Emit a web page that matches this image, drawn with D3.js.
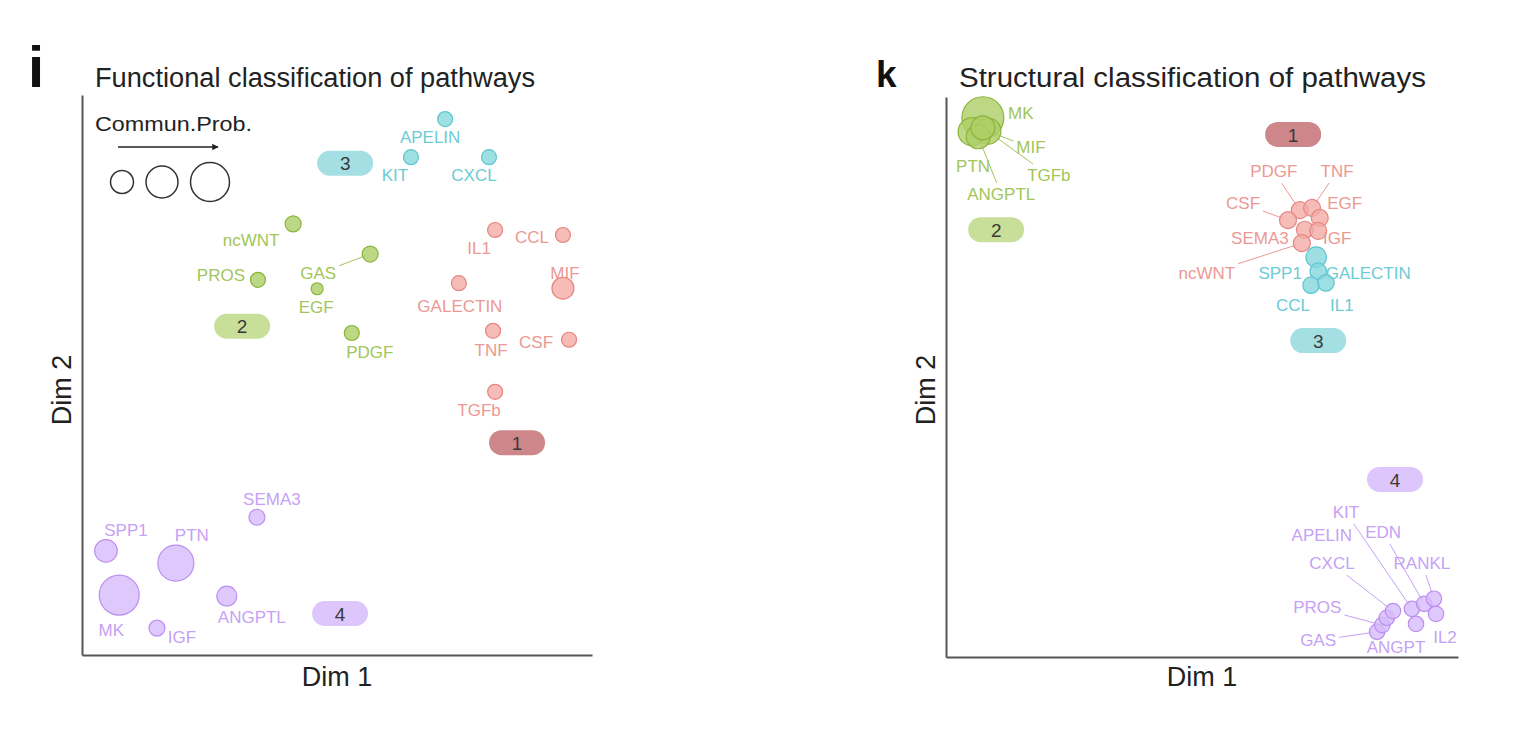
<!DOCTYPE html>
<html>
<head>
<meta charset="utf-8">
<script src="https://cdn.jsdelivr.net/npm/d3@7"></script>
<style>
body { margin: 0; background: #fff; }
svg text { font-family: "Liberation Sans", Arial, Helvetica, sans-serif; }
</style>
</head>
<body>
<svg id="chart" width="1522" height="734"></svg>
<script>

// ---- panel i : functional classification ----
var funcNames   = ["IL1","CCL","MIF","GALECTIN","TNF","CSF","TGFb",
                   "ncWNT","GAS","PROS","EGF","PDGF",
                   "APELIN","KIT","CXCL",
                   "SEMA3","SPP1","PTN","MK","IGF","ANGPTL"];
var funcCluster = [1,1,1,1,1,1,1, 2,2,2,2,2, 3,3,3, 4,4,4,4,4,4];
var funcDim1    = [81.0,94.3,94.3,73.9,80.6,95.5,81.0, 41.4,56.5,34.5,46.1,52.9, 71.2,64.5,79.8, 34.3,4.7,18.4,7.3,14.7,28.4];
var funcDim2    = [75.9,75.0,65.5,66.4,57.9,56.3,47.0, 77.0,71.6,67.0,65.4,57.5, 95.7,88.9,88.9, 24.6,18.6,16.4,10.7,4.8,10.5];
var funcProb    = [0.14,0.14,0.30,0.14,0.14,0.14,0.14, 0.16,0.16,0.14,0.09,0.14, 0.14,0.14,0.14, 0.16,0.32,0.81,1.0,0.16,0.25];

// ---- panel k : structural classification ----
var structNames   = ["PDGF","TNF","CSF","EGF","SEMA3","IGF","ncWNT",
                     "MK","PTN","ANGPTL","MIF","TGFb",
                     "SPP1","GALECTIN","CCL","IL1",
                     "GAS","PROS","APELIN","CXCL","KIT","EDN","RANKL","IL2","ANGPT"];
var structCluster = [1,1,1,1,1,1,1, 2,2,2,2,2, 3,3,3,3, 4,4,4,4,4,4,4,4,4];
var structDim1    = [69.1,71.5,66.8,73.0,70.1,72.7,69.5, 7.2,5.1,6.3,8.2,7.2, 72.3,72.7,71.3,74.2, 84.2,85.2,86.1,87.3,91.0,93.4,95.3,95.7,91.8];
var structDim2    = [79.8,80.2,78.0,78.4,76.3,76.1,73.9, 96.3,93.8,92.9,93.9,94.5, 71.4,68.9,66.4,66.8, 4.5,5.7,7.0,8.2,8.6,9.5,10.4,7.7,5.9];
var structProb    = [0.18,0.18,0.18,0.18,0.18,0.18,0.18, 1.1,0.49,0.36,0.42,0.36, 0.26,0.17,0.17,0.17, 0.15,0.15,0.15,0.15,0.15,0.15,0.15,0.15,0.15];

// cluster badges
var clusterIds      = [1,2,3,4];
var funcBadgeDim1   = [85.3,31.4,51.6,50.6];
var funcBadgeDim2   = [38.0,58.8,87.9,7.5];
var structBadgeDim1 = [67.8,9.8,72.7,87.7];
var structBadgeDim2 = [93.4,76.4,56.6,31.8];

var legendProb = [0.33,0.64,0.95];

// label placement (pixels from the point), third item = leader line
var funcLabelPos = {
  IL1:[-16,18], CCL:[-31,2], MIF:[2,-15], GALECTIN:[1,23], TNF:[-2,19], CSF:[-33,2], TGFb:[-16,18],
  ncWNT:[-42,16], GAS:[-52,19,1], PROS:[-37,-5], EGF:[-1,18], PDGF:[18,19],
  APELIN:[-15,18], KIT:[-16,18], CXCL:[-15,18],
  SEMA3:[15,-18], SPP1:[20,-21], PTN:[16,-28], MK:[-8,35], IGF:[25,9], ANGPTL:[25,21]
};
var structLabelPos = {
  PDGF:[-26,-39,1], TNF:[25,-37,1], CSF:[-45,-17,1], EGF:[25,-15], SEMA3:[-45,8], IGF:[19,7], ncWNT:[-95,30,1],
  MK:[38,-5], PTN:[1,34], ANGPTL:[23,57,1], MIF:[43,16,1], TGFb:[66,47,1],
  SPP1:[-36,16], GALECTIN:[50,2], CCL:[-18,20], IL1:[16,22],
  GAS:[-59,8,1], PROS:[-65,-18,1], APELIN:[-65,-83], CXCL:[-61,-48,1], KIT:[-66,-97,1],
  EDN:[-41,-72,1], RANKL:[-12,-36,1], IL2:[9,23], ANGPT:[-20,23]
};

var strokeCol = {1:"#e8857f", 2:"#8cb43a", 3:"#5cc6cf", 4:"#bb8ff0"};
var fillCol   = {1:"#f3aba6", 2:"#acce66", 3:"#86d7dd", 4:"#d7bafa"};
var textCol   = {1:"#ec9893", 2:"#a2c55a", 3:"#6ccbd3", 4:"#c6a1f5"};
var badgeCol  = {1:"#cd8689", 2:"#c7df99", 3:"#a3dfe3", 4:"#dcc6fb"};

var svg = d3.select("#chart");
var rScale = d3.scaleSqrt().domain([0, 1]).range([0, 20]);

function drawPanel(p) {
  var x = d3.scaleLinear().domain([0, 100]).range(p.xr);
  var y = d3.scaleLinear().domain([0, 100]).range(p.yr);
  var g = svg.append("g");

  g.append("g").attr("transform", "translate(0," + p.yr[0] + ")")
    .call(d3.axisBottom(x).tickValues([]).tickSizeOuter(0))
    .select(".domain").attr("stroke", "#555").attr("stroke-width", 2);
  g.append("g").attr("transform", "translate(" + p.xr[0] + ",0)")
    .call(d3.axisLeft(y).tickValues([]).tickSizeOuter(0))
    .select(".domain").attr("stroke", "#555").attr("stroke-width", 2);

  g.append("text").attr("x", p.letterX).attr("y", 87).attr("font-size", p.letterSize)
    .attr("font-weight", "bold").attr("fill", "#111").text(p.letter);
  g.append("text").attr("x", p.xr[0] + 13).attr("y", 87).attr("font-size", 27)
    .attr("textLength", p.titleLen).attr("lengthAdjust", "spacingAndGlyphs")
    .attr("fill", "#222").text(p.title);
  g.append("text").attr("x", (p.xr[0] + p.xr[1]) / 2).attr("y", 686).attr("font-size", 27)
    .attr("text-anchor", "middle").attr("fill", "#222").text("Dim 1");
  g.append("text").attr("transform", "translate(" + (p.xr[0] - 11) + ",390) rotate(-90)")
    .attr("font-size", 27).attr("text-anchor", "middle").attr("fill", "#222").text("Dim 2");

  var pts = p.names.map(function(n, i) {
    return { name: n, cl: p.cluster[i], cx: x(p.d1[i]), cy: y(p.d2[i]), r: rScale(p.prob[i]) };
  });

  // badges
  var b = g.selectAll(".badge").data(clusterIds).enter().append("g")
    .attr("transform", function(d, i) { return "translate(" + x(p.bx[i]) + "," + y(p.by[i]) + ")"; });
  b.append("rect").attr("x", -28).attr("y", -12).attr("width", 56).attr("height", 25).attr("rx", 12.5)
    .attr("fill", function(d) { return badgeCol[d]; });
  b.append("text").attr("text-anchor", "middle").attr("dy", "0.4em").attr("font-size", 19)
    .attr("fill", "#3a3a3a").text(function(d) { return d; });

  // labels
  var labels = g.selectAll(".lab").data(pts).enter().append("text")
    .attr("x", function(d) { return d.cx + p.lab[d.name][0]; })
    .attr("y", function(d) { return d.cy + p.lab[d.name][1]; })
    .attr("dy", "0.36em").attr("text-anchor", "middle").attr("font-size", 17)
    .attr("fill", function(d) { return textCol[d.cl]; })
    .text(function(d) { return d.name; });

  // leader lines, from the label box edge to the circle edge
  labels.each(function(d) {
    if (!p.lab[d.name][2]) return;
    var bb = this.getBBox();
    var lx = bb.x + bb.width / 2, ly = bb.y + bb.height / 2;
    var dx = d.cx - lx, dy = d.cy - ly;
    var hw = bb.width / 2 + 3, hh = bb.height / 2 + 2;
    var t = Math.min(dx ? hw / Math.abs(dx) : 1e9, dy ? hh / Math.abs(dy) : 1e9);
    var len = Math.sqrt(dx * dx + dy * dy);
    var x1 = lx + dx * t, y1 = ly + dy * t;
    var x2 = d.cx - dx / len * d.r * 0.6, y2 = d.cy - dy / len * d.r * 0.6;
    g.insert("line", "text").attr("x1", x1).attr("y1", y1).attr("x2", x2).attr("y2", y2)
      .attr("stroke", textCol[d.cl]).attr("stroke-width", 1);
  });

  // points, big ones first
  g.selectAll(".pt").data(pts.slice().sort(function(a, b) { return b.r - a.r; }))
    .enter().append("circle")
    .attr("cx", function(d) { return d.cx; })
    .attr("cy", function(d) { return d.cy; })
    .attr("r", function(d) { return d.r; })
    .attr("fill", function(d) { return fillCol[d.cl]; })
    .attr("fill-opacity", 0.8)
    .attr("stroke", function(d) { return strokeCol[d.cl]; })
    .attr("stroke-width", 1.2);
  return g;
}

var left = drawPanel({
  xr: [82, 592], yr: [655, 95], letter: "i", letterX: 28, letterSize: 58,
  title: "Functional classification of pathways", titleLen: 440,
  names: funcNames, cluster: funcCluster, d1: funcDim1, d2: funcDim2, prob: funcProb,
  bx: funcBadgeDim1, by: funcBadgeDim2, lab: funcLabelPos
});
drawPanel({
  xr: [946, 1458], yr: [657, 97], letter: "k", letterX: 876, letterSize: 37,
  title: "Structural classification of pathways", titleLen: 467,
  names: structNames, cluster: structCluster, d1: structDim1, d2: structDim2, prob: structProb,
  bx: structBadgeDim1, by: structBadgeDim2, lab: structLabelPos
});

// size legend
svg.append("defs").append("marker").attr("id", "arr").attr("viewBox", "0 0 10 10")
  .attr("refX", 9).attr("refY", 5).attr("markerWidth", 4).attr("markerHeight", 4).attr("orient", "auto")
  .append("path").attr("d", "M0,0L10,5L0,10z").attr("fill", "#222");
left.append("text").attr("x", 95).attr("y", 131).attr("font-size", 21)
  .attr("textLength", 157).attr("lengthAdjust", "spacingAndGlyphs")
  .attr("fill", "#222").text("Commun.Prob.");
left.append("line").attr("x1", 118).attr("x2", 218).attr("y1", 147).attr("y2", 147)
  .attr("stroke", "#222").attr("stroke-width", 1.6).attr("marker-end", "url(#arr)");
var lgX = [122, 162, 210];
left.selectAll(".lg").data(legendProb).enter().append("circle")
  .attr("cx", function(d, i) { return lgX[i]; }).attr("cy", 182)
  .attr("r", function(d) { return rScale(d); })
  .attr("fill", "none").attr("stroke", "#333").attr("stroke-width", 1.5);
</script>
</body>
</html>
